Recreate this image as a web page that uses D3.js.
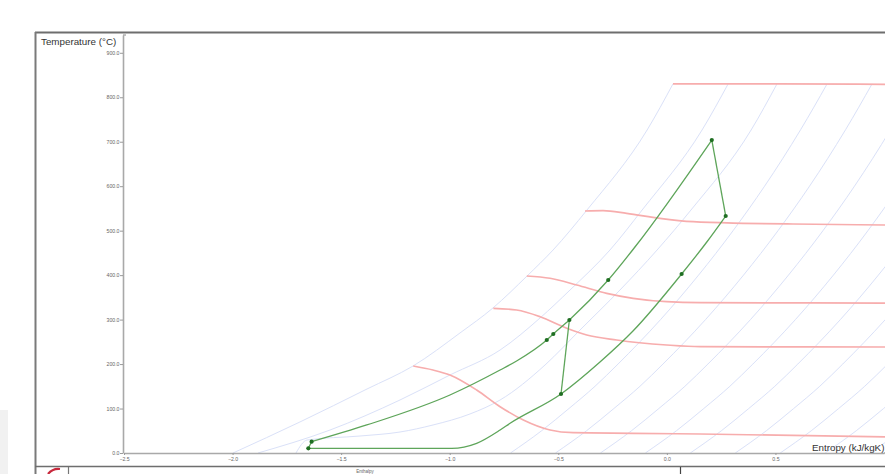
<!DOCTYPE html>
<html>
<head>
<meta charset="utf-8">
<script src="https://cdn.jsdelivr.net/npm/d3@7"></script>
<style>
  html, body { margin: 0; padding: 0; background: #fff; }
  svg { display: block; font-family: "Liberation Sans", Arial, sans-serif; }
</style>
</head>
<body>
<svg id="chart" width="885" height="474"></svg>
<script>
// ---------------- DATA (entropy kJ/kgK , temperature °C) ----------------
const xTicks = [-2.5, -2.0, -1.5, -1.0, -0.5, 0.0, 0.5];
const yTicks = [0, 100, 200, 300, 400, 500, 600, 700, 800, 900];

// isobars (blue)
const isobarHigh1 = [[-1.998,0],[-1.690,69.7],[-1.381,143.9],[-1.169,195.6],[-0.953,269.8],[-0.801,326.1],[-0.644,398.0],[-0.524,456.5],[-0.368,546.4],[-0.091,726.3],[0.028,829.8]];
const isobarHigh2 = [[-1.883,0],[-1.551,51.7],[-1.229,119.2],[-0.999,175.4],[-0.768,231.6],[-0.584,303.6],[-0.446,366.5],[-0.262,456.5],[-0.114,546.4],[0.162,726.3],[0.282,829.8]];
const isobarHigh3 = [[-1.708,0],[-1.657,29.2],[-1.413,38.2],[-1.229,47.2],[-1.077,63.0],[-0.907,87.7],[-0.768,119.2],[-0.561,197.9],[-0.400,276.6],[-0.216,366.5],[-0.045,456.5],[0.111,546.4],[0.388,726.3],[0.507,829.8]];
const isobarTemps = [0, 50, 100, 150, 200, 300, 400, 500, 600, 727, 830];
const isobarLowS = [
  [-0.720,-0.577,-0.451,-0.331,-0.225,-0.029,0.146,0.305,0.450,0.616,0.738],
  [-0.513,-0.370,-0.244,-0.124,-0.018,0.178,0.353,0.512,0.657,0.823,0.945],
  [-0.306,-0.163,-0.037,0.083,0.189,0.385,0.560,0.719,0.864,1.030,1.152],
  [-0.099,0.044,0.170,0.290,0.396,0.592,0.767,0.926,1.071,1.237,1.359],
  [0.108,0.251,0.377,0.497,0.603,0.799,0.974,1.133,1.278],
  [0.315,0.458,0.584,0.704,0.810,1.006,1.181],
  [0.522,0.665,0.791,0.911,1.017,1.213],
  [0.729,0.872,0.998,1.118],
  [0.936,1.079,1.205]
];

// isenthalps (red)
const redLine1 = [[0.028,830.0],[0.5,830.0],[1.05,829.0]];
const redLine2 = [[-0.377,544.2],[-0.294,544.9],[-0.185,539.0],[-0.032,527.8],[0.121,520.1],[0.351,516.5],[0.581,515.0],[1.05,512.5]];
const redLine3 = [[-0.645,398.0],[-0.538,392.9],[-0.415,377.8],[-0.277,359.1],[-0.155,347.9],[-0.001,340.2],[0.153,338.0],[1.05,337.2]];
const redLine4 = [[-0.799,325.4],[-0.692,321.6],[-0.584,306.5],[-0.461,280.4],[-0.369,265.3],[-0.231,254.1],[-0.001,242.9],[0.153,239.0],[1.05,238.3]];
const redLine5 = [[-1.168,195.6],[-1.077,186.6],[-0.999,175.4],[-0.876,141.7],[-0.768,104.1],[-0.661,74.2],[-0.538,51.7],[-0.431,45.6],[-0.155,44.3],[0.153,42.7],[1.05,36.0]];

// cycle (green)
const cycleHighSide = [[-1.636,25.4],[-1.382,63.0],[-0.999,130.4],[-0.768,186.6],[-0.692,206.9],[-0.553,254.1],[-0.523,267.6],[-0.449,299.1],[-0.270,389.0],[-0.147,463.2],[0.207,703.8]];
const cycleLowSide = [[-1.651,10.6],[-0.991,10.6],[-0.876,21.8],[-0.768,51.7],[-0.722,66.8],[-0.4875,132.7],[-0.308,204.6],[-0.156,274.3],[0.068,402.5],[0.184,474.5],[0.271,533.0]];
const cycleExpansion = [[0.207,703.8],[0.271,533.0]];
const cyclePump = [[-1.651,10.6],[-1.636,25.4]];
const cycleRecompressor = [[-0.4875,132.7],[-0.449,299.1]];
const cycleStates = [[-1.651,10.6],[-1.636,25.4],[-0.553,254.1],[-0.523,267.6],[-0.449,299.1],[-0.270,389.0],[0.207,703.8],[0.271,533.0],[0.068,402.5],[-0.4875,132.7]];

// ---------------- DRAWING ----------------
const svg = d3.select("#chart");
const x = d3.scaleLinear().domain([-2.5, 1.0]).range([124, 884]);
const y = d3.scaleLinear().domain([0, 940]).range([453, 35]);

// faint grey smudge at far left
svg.append("rect").attr("x", 0).attr("y", 410).attr("width", 8).attr("height", 64).attr("fill", "#f1f1f1");

svg.append("defs").append("clipPath").attr("id", "plotclip")
  .append("rect").attr("x", 124).attr("y", 35).attr("width", 761).attr("height", 418);

const plot = svg.append("g").attr("clip-path", "url(#plotclip)");
const smooth = d3.line().x(d => x(d[0])).y(d => y(d[1])).curve(d3.curveMonotoneX);
const straight = d3.line().x(d => x(d[0])).y(d => y(d[1]));

const isobars = [isobarHigh1, isobarHigh2, isobarHigh3]
  .concat(isobarLowS.map(sv => d3.zip(sv, isobarTemps.slice(0, sv.length))));
plot.selectAll("path.isobar").data(isobars).enter().append("path")
  .attr("class", "isobar").attr("d", smooth)
  .attr("fill", "none").attr("stroke", "#dae1f8").attr("stroke-width", 1);

const reds = [redLine1, redLine2, redLine3, redLine4, redLine5];
plot.selectAll("path.red").data(reds).enter().append("path")
  .attr("class", "red").attr("d", smooth)
  .attr("fill", "none").attr("stroke", "#f7adad").attr("stroke-width", 1.7);

const green = "#5ea55a";
[cycleHighSide, cycleLowSide].forEach(d => plot.append("path").attr("d", smooth(d))
  .attr("fill", "none").attr("stroke", green).attr("stroke-width", 1.3));
[cycleExpansion, cyclePump, cycleRecompressor].forEach(d => plot.append("path").attr("d", straight(d))
  .attr("fill", "none").attr("stroke", green).attr("stroke-width", 1.3));
plot.selectAll("circle.state").data(cycleStates).enter().append("circle")
  .attr("class", "state").attr("cx", d => x(d[0])).attr("cy", d => y(d[1]))
  .attr("r", 2.1).attr("fill", "#1f6e22");

// axes
const yAxis = svg.append("g").attr("transform", "translate(123,0)")
  .call(d3.axisLeft(y).tickValues(yTicks).tickFormat(d3.format(".1f")).tickSize(3).tickSizeOuter(0));
const xAxis = svg.append("g").attr("transform", "translate(0,453)")
  .call(d3.axisBottom(x).tickValues(xTicks).tickFormat(d3.format(".1f")).tickSize(2).tickSizeOuter(0));
[yAxis, xAxis].forEach(a => {
  a.select(".domain").attr("stroke", "#a9a9a9").attr("stroke-width", 1.6);
  a.selectAll(".tick line").attr("stroke", "#9a9a9a");
  a.selectAll(".tick text").attr("fill", "#666").attr("font-size", 5.2);
});
yAxis.selectAll(".tick text").attr("x", -3.5);
xAxis.selectAll(".tick text").attr("y", 4);
svg.append("line").attr("x1", 884).attr("x2", 885).attr("y1", 453).attr("y2", 453)
  .attr("stroke", "#a9a9a9").attr("stroke-width", 1.6);
svg.append("line").attr("x1", 123).attr("x2", 126).attr("y1", 35).attr("y2", 35).attr("stroke", "#888");

// titles
svg.append("text").attr("x", 41).attr("y", 44.5).attr("font-size", 9.8).attr("fill", "#333")
  .text("Temperature (°C)");
svg.append("text").attr("x", 812).attr("y", 451).attr("font-size", 9.8).attr("fill", "#333")
  .text("Entropy (kJ/kgK)");

// frame
svg.append("line").attr("x1", 35).attr("x2", 885).attr("y1", 32.5).attr("y2", 32.5)
  .attr("stroke", "#6e6e6e").attr("stroke-width", 1.8);
svg.append("line").attr("x1", 35.5).attr("x2", 35.5).attr("y1", 32).attr("y2", 474)
  .attr("stroke", "#7a7a7a").attr("stroke-width", 2);
svg.append("line").attr("x1", 35).attr("x2", 885).attr("y1", 466.5).attr("y2", 466.5)
  .attr("stroke", "#6e6e6e").attr("stroke-width", 1.6);
svg.append("line").attr("x1", 68.5).attr("x2", 68.5).attr("y1", 467).attr("y2", 474)
  .attr("stroke", "#777").attr("stroke-width", 1.2);
svg.append("line").attr("x1", 680.5).attr("x2", 680.5).attr("y1", 467).attr("y2", 474)
  .attr("stroke", "#444").attr("stroke-width", 1.2);
svg.append("path").attr("d", "M48,474 Q53,468 60,469").attr("fill", "none")
  .attr("stroke", "#c8283c").attr("stroke-width", 2.2);
svg.append("text").attr("x", 365).attr("y", 473).attr("font-size", 4.5).attr("fill", "#666")
  .attr("text-anchor", "middle").text("Enthalpy");
</script>
</body>
</html>
